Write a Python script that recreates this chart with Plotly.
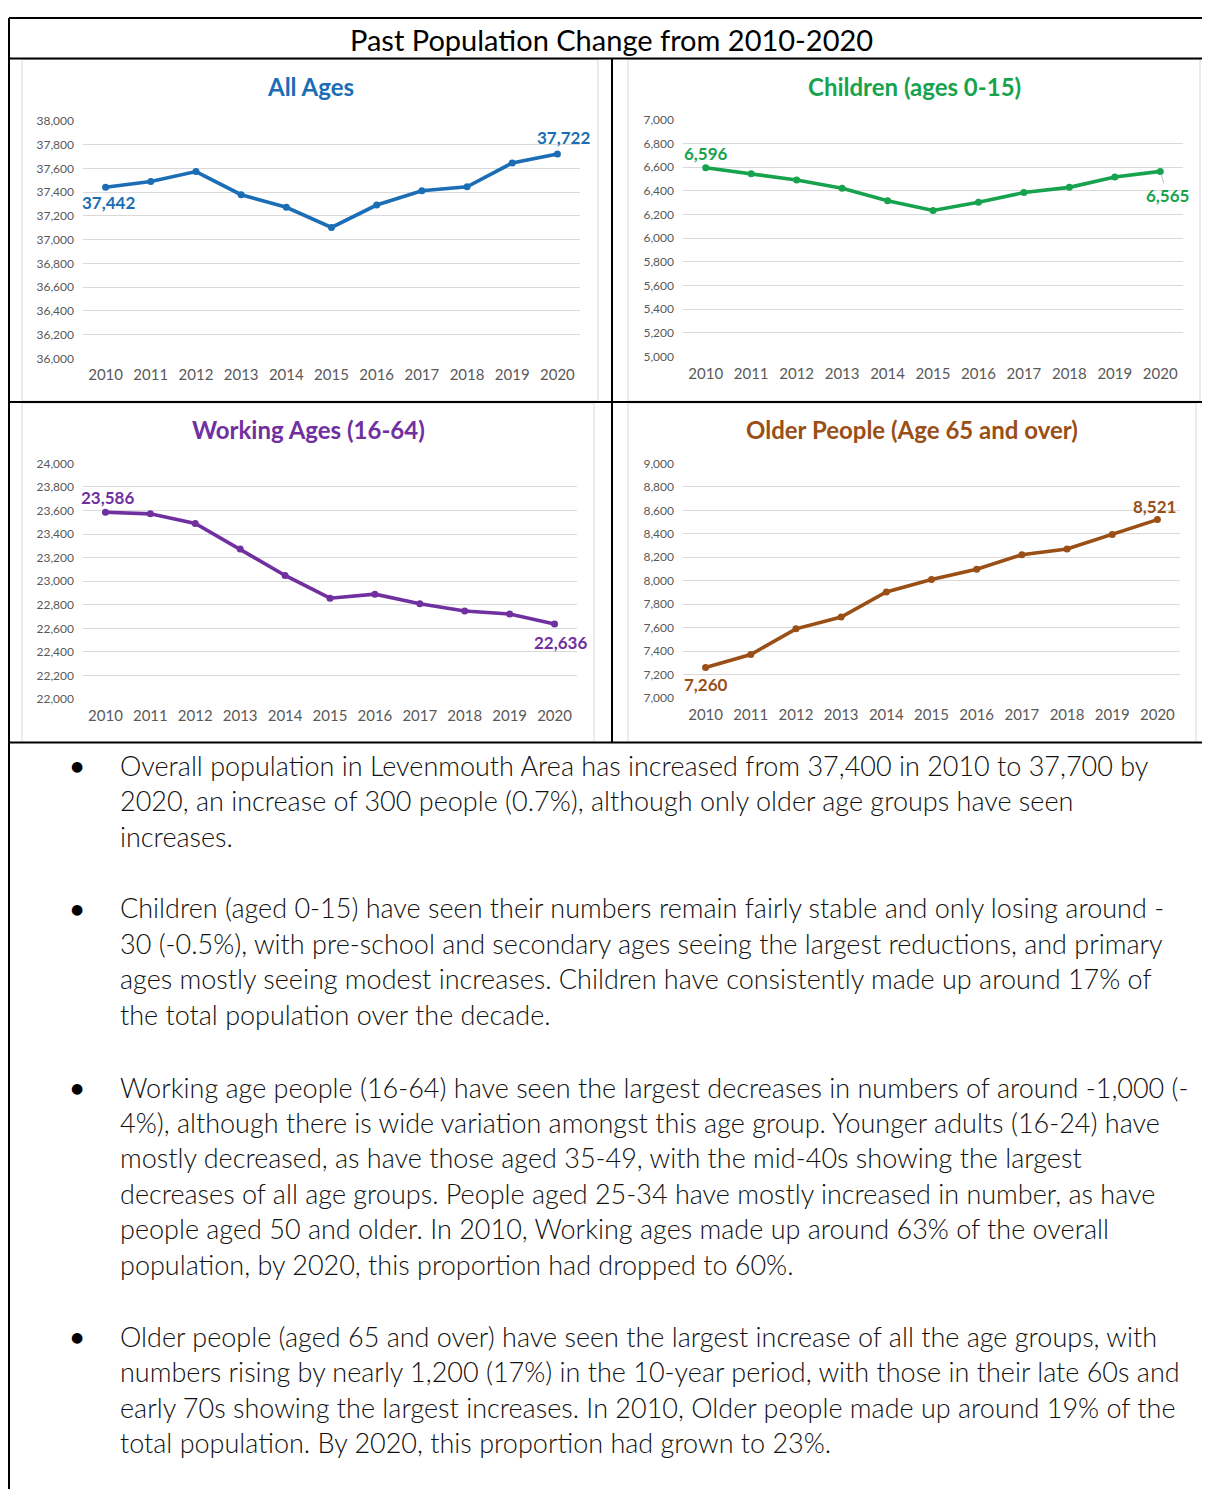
import plotly.graph_objects as go

# the page body adds an 8px margin, so the figure is sized to fill the window exactly
OFF = 8
W, H = 1194, 1481

years = [2010, 2011, 2012, 2013, 2014, 2015, 2016, 2017, 2018, 2019, 2020]
all_ages = [37442, 37490, 37574, 37379, 37273, 37103, 37292, 37412, 37446, 37646, 37722]
children = [6596, 6545, 6492, 6422, 6316, 6235, 6305, 6386, 6430, 6517, 6565]
working = [23586, 23572, 23491, 23273, 23049, 22856, 22890, 22808, 22747, 22722, 22636]
older = [7260, 7371, 7590, 7691, 7904, 8011, 8098, 8222, 8270, 8393, 8521]

chart_titles = ["All Ages", "Children (ages 0-15)", "Working Ages (16-64)", "Older People (Age 65 and over)"]
y_ranges = [(36000, 38000), (5000, 7000), (22000, 24000), (7000, 9000)]
page_title = "Past Population Change from 2010-2020"

paragraphs = [
    ["Overall population in Levenmouth Area has increased from 37,400 in 2010 to 37,700 by",
     "2020, an increase of 300 people (0.7%), although only older age groups have seen",
     "increases."],
    ["Children (aged 0-15) have seen their numbers remain fairly stable and only losing around -",
     "30 (-0.5%), with pre-school and secondary ages seeing the largest reductions, and primary",
     "ages mostly seeing modest increases. Children have consistently made up around 17% of",
     "the total population over the decade."],
    ["Working age people (16-64) have seen the largest decreases in numbers of around -1,000 (-",
     "4%), although there is wide variation amongst this age group. Younger adults (16-24) have",
     "mostly decreased, as have those aged 35-49, with the mid-40s showing the largest",
     "decreases of all age groups. People aged 25-34 have mostly increased in number, as have",
     "people aged 50 and older. In 2010, Working ages made up around 63% of the overall",
     "population, by 2020, this proportion had dropped to 60%."],
    ["Older people (aged 65 and over) have seen the largest increase of all the age groups, with",
     "numbers rising by nearly 1,200 (17%) in the 10-year period, with those in their late 60s and",
     "early 70s showing the largest increases. In 2010, Older people made up around 19% of the",
     "total population. By 2020, this proportion had grown to 23%."],
]

series = [all_ages, children, working, older]
colors = ["#1B6EB5", "#17A34D", "#7030A0", "#994F16"]

# plot areas in page pixels: (x0, x1, ytop, ybottom)
areas = [(83, 580, 114, 354), (683, 1183, 113, 352), (83, 577, 460, 698), (683, 1180, 460, 697)]
# chart frames (x0, y0, x1, y1)
frames = [(22, 52, 598, 397), (628, 52, 1200, 397), (22, 399, 594, 742), (628, 399, 1196, 742)]
title_pos = [(310, 79), (914, 79), (308, 426), (912, 426)]

FONT = "Lato"

def px(x):
    return (x - OFF) / W

def py(y):
    return 1 - (y - OFF) / H

fig = go.Figure()
annotations = []
shapes = []

for i in range(4):
    ax_id = "" if i == 0 else str(i + 1)
    x0, x1, yt, yb = areas[i]
    fig.add_trace(go.Scatter(
        x=years, y=series[i], mode="lines+markers",
        line=dict(color=colors[i], width=3.6),
        marker=dict(size=7, color=colors[i]),
        xaxis="x" + ax_id, yaxis="y" + ax_id, showlegend=False, hoverinfo="x+y",
    ))
    fig.update_layout(**{
        "xaxis" + ax_id: dict(
            domain=[px(x0), px(x1)], range=[2009.5, 2020.5], anchor="y" + ax_id,
            tickvals=years, ticktext=[str(y) for y in years], showgrid=False, zeroline=False,
            showline=False, ticks="", ticklabelstandoff=6,
            tickfont=dict(family=FONT, size=15, color="#595959"), fixedrange=True,
        ),
        "yaxis" + ax_id: dict(
            domain=[py(yb), py(yt)], range=list(y_ranges[i]), anchor="x" + ax_id,
            dtick=200, tickformat=",d", showgrid=True, gridcolor="#D9D9D9", gridwidth=1,
            zeroline=False, showline=False, ticks="", ticklabelstandoff=8,
            tickfont=dict(family=FONT, size=12, color="#595959"), fixedrange=True,
        ),
    })
    fx0, fy0, fx1, fy1 = frames[i]
    shapes.append(dict(type="rect", xref="paper", yref="paper", x0=px(fx0), x1=px(fx1),
                       y0=py(fy1), y1=py(fy0), line=dict(color="#D9D9D9", width=1), layer="below"))
    tx, ty = title_pos[i]
    annotations.append(dict(text="<b>" + chart_titles[i] + "</b>", xref="paper", yref="paper",
                            x=px(tx), y=py(ty), xanchor="center", yanchor="middle", showarrow=False,
                            font=dict(family=FONT, size=24, color=colors[i])))

def lab(i, idx, xs, ys, arrow=False):
    ax_id = "" if i == 0 else str(i + 1)
    d = dict(text="<b>{:,}</b>".format(series[i][idx]), xref="x" + ax_id, yref="y" + ax_id,
             x=years[idx], y=series[i][idx], font=dict(family=FONT, size=17, color=colors[i]))
    if arrow:
        d.update(showarrow=True, ax=xs, ay=-ys, arrowhead=0, arrowwidth=1, arrowcolor="#BFBFBF",
                 standoff=3)
    else:
        d.update(showarrow=False, xshift=xs, yshift=ys)
    annotations.append(d)

lab(0, 0, 3, -15)
lab(0, 10, 6, 16)
lab(1, 0, 0, 14)
lab(1, 10, 7, -24, arrow=True)
lab(2, 0, 2, 15)
lab(2, 10, 6, -18)
lab(3, 0, 0, -17)
lab(3, 10, -3, 13)

# page title
annotations.append(dict(text=page_title, xref="paper", yref="paper", x=px(611), y=py(32),
                        xanchor="center", yanchor="middle", showarrow=False,
                        font=dict(family=FONT, size=29, color="#000000")))

# table lines
black = dict(color="#000000", width=2)
for (a, b, c, d) in [(9, 10, 1215, 10), (9, 51, 1215, 51), (9, 398, 1215, 398), (9, 742, 1215, 742),
                     (9, 10, 9, 1510), (612, 51, 612, 742)]:
    shapes.append(dict(type="line", xref="paper", yref="paper", x0=px(a), y0=py(b), x1=px(c), y1=py(d),
                       line=black, layer="above"))

# bullet text
para_starts = [765, 909, 1090, 1342]
line_gap = 35.8
for p, lines in enumerate(paragraphs):
    y0 = para_starts[p]
    annotations.append(dict(text="\u25CF", xref="paper", yref="paper", x=px(77), y=py(y0 + 1),
                            xanchor="center", yanchor="middle", showarrow=False,
                            font=dict(family="DejaVu Sans", size=14, color="#000000")))
    for k, t in enumerate(lines):
        annotations.append(dict(text=t, xref="paper", yref="paper", x=px(118), y=py(y0 + k * line_gap),
                                xanchor="left", yanchor="middle", showarrow=False,
                                font=dict(family=FONT, size=27, color="#111111", weight=300)))

fig.update_layout(
    width=W, height=H, margin=dict(l=0, r=0, t=0, b=0),
    paper_bgcolor="white", plot_bgcolor="rgba(0,0,0,0)",
    annotations=annotations, shapes=shapes,
)

fig.write_html("out.html", config={"displayModeBar": False})
